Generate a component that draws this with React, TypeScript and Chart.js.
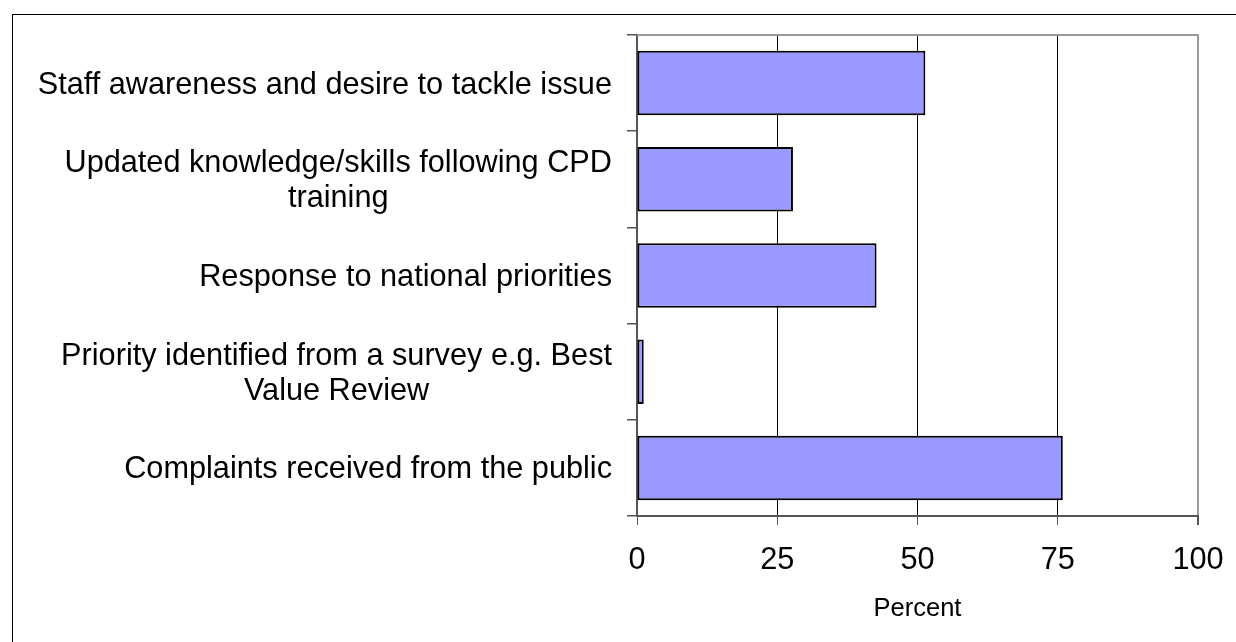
import React, { useEffect, useRef } from 'react';
import { Chart, registerables } from 'chart.js';

Chart.register(...registerables);

const categories: (string | string[])[] = [
  'Staff awareness and desire to tackle issue',
  ['Updated knowledge/skills following CPD', 'training'],
  'Response to national priorities',
  ['Priority identified from a survey e.g. Best', 'Value Review'],
  'Complaints received from the public',
];
const values: number[] = [51.4, 27.8, 42.7, 1.2, 75.9];
const xTicks: number[] = [0, 25, 50, 75, 100];
const axisTitle = 'Percent';

const FONT = '"Liberation Sans", Arial, Helvetica, sans-serif';
const LABEL_SIZE = 30.7;
const Y_TICK_LEN = 10;
const Y_LABEL_GAP = 15;
const LINE_H = 35;

const yLabelsPlugin = {
  id: 'yLabelsCentered',
  afterDraw(chart: any) {
    const ctx = chart.ctx as CanvasRenderingContext2D;
    const ys = chart.scales.y;
    ctx.save();
    ctx.font = `${LABEL_SIZE}px ${FONT}`;
    ctx.fillStyle = '#000';
    ctx.textAlign = 'center';
    ctx.textBaseline = 'middle';
    const rightEdge = chart.chartArea.left - Y_TICK_LEN - Y_LABEL_GAP;
    categories.forEach((lab, i) => {
      const lines = Array.isArray(lab) ? lab : [lab];
      const w = Math.max(...lines.map((l) => ctx.measureText(l).width));
      const cx = rightEdge - w / 2;
      const cy = ys.getPixelForValue(i) + 2;
      lines.forEach((l, j) => {
        ctx.fillText(l, cx, cy + (j - (lines.length - 1) / 2) * LINE_H);
      });
    });
    ctx.restore();
  },
};

const framePlugin = {
  id: 'plotFrameTop',
  beforeDatasetsDraw(chart: any) {
    const { left, right, top } = chart.chartArea;
    const ctx = chart.ctx as CanvasRenderingContext2D;
    ctx.save();
    ctx.strokeStyle = '#999999';
    ctx.lineWidth = 2;
    ctx.beginPath();
    ctx.moveTo(left, top);
    ctx.lineTo(right + 1, top);
    ctx.stroke();
    ctx.restore();
  },
};

export default function App() {
  const ref = useRef<HTMLCanvasElement | null>(null);

  useEffect(() => {
    if (!ref.current) return;
    const chart = new Chart(ref.current, {
      type: 'bar',
      data: {
        labels: categories as any,
        datasets: [
          {
            data: values,
            backgroundColor: '#9999FF',
            borderColor: '#000000',
            borderWidth: 2,
            borderSkipped: false,
            barPercentage: 0.67,
            categoryPercentage: 1,
          },
        ],
      },
      options: {
        indexAxis: 'y',
        animation: false,
        responsive: false,
        devicePixelRatio: 1,
        layout: { padding: { top: 35, right: 38, left: 0, bottom: 0 } },
        plugins: {
          legend: { display: false },
          tooltip: { enabled: false },
        },
        scales: {
          x: {
            type: 'linear',
            min: 0,
            max: 100,
            afterBuildTicks: (s: any) => {
              s.ticks = xTicks.map((v) => ({ value: v }));
            },
            afterFit: (s: any) => {
              s.height = 126;
              s.paddingLeft = 0;
              s.paddingRight = 0;
            },
            grid: {
              color: (c: any) => (c.index === xTicks.length - 1 ? '#999999' : '#000000'),
              lineWidth: (c: any) => (c.index === xTicks.length - 1 ? 2 : 1),
              drawTicks: true,
              tickLength: 9,
              tickColor: '#555555',
            },
            border: { display: true, color: '#555555', width: 2 },
            ticks: {
              color: '#000',
              font: { family: FONT, size: LABEL_SIZE },
              padding: 17,
              maxRotation: 0,
            },
            title: {
              display: true,
              text: axisTitle,
              color: '#000',
              font: { family: FONT, size: 25.5 },
              padding: { top: 0, bottom: 18 },
            },
          },
          y: {
            type: 'category',
            afterFit: (s: any) => {
              s.width = 637;
              s.paddingTop = 0;
              s.paddingBottom = 0;
            },
            grid: {
              display: true,
              offset: true,
              drawOnChartArea: false,
              drawTicks: true,
              tickLength: Y_TICK_LEN,
              color: '#555555',
              lineWidth: 1.5,
            },
            border: { display: true, color: '#555555', width: 2 },
            ticks: { display: false },
          },
        },
      },
      plugins: [framePlugin, yLabelsPlugin],
    });
    return () => chart.destroy();
  }, []);

  return (
    <div
      style={{
        position: 'fixed',
        left: 0,
        top: 0,
        width: 1236,
        height: 642,
        overflow: 'hidden',
        background: '#fff',
      }}
    >
      <div
        style={{
          position: 'absolute',
          left: 12,
          top: 14,
          width: 1300,
          height: 700,
          border: '1px solid #000',
          boxSizing: 'border-box',
        }}
      />
      <canvas
        ref={ref}
        width={1236}
        height={642}
        style={{ position: 'absolute', left: 0, top: 0, width: 1236, height: 642 }}
      />
    </div>
  );
}
